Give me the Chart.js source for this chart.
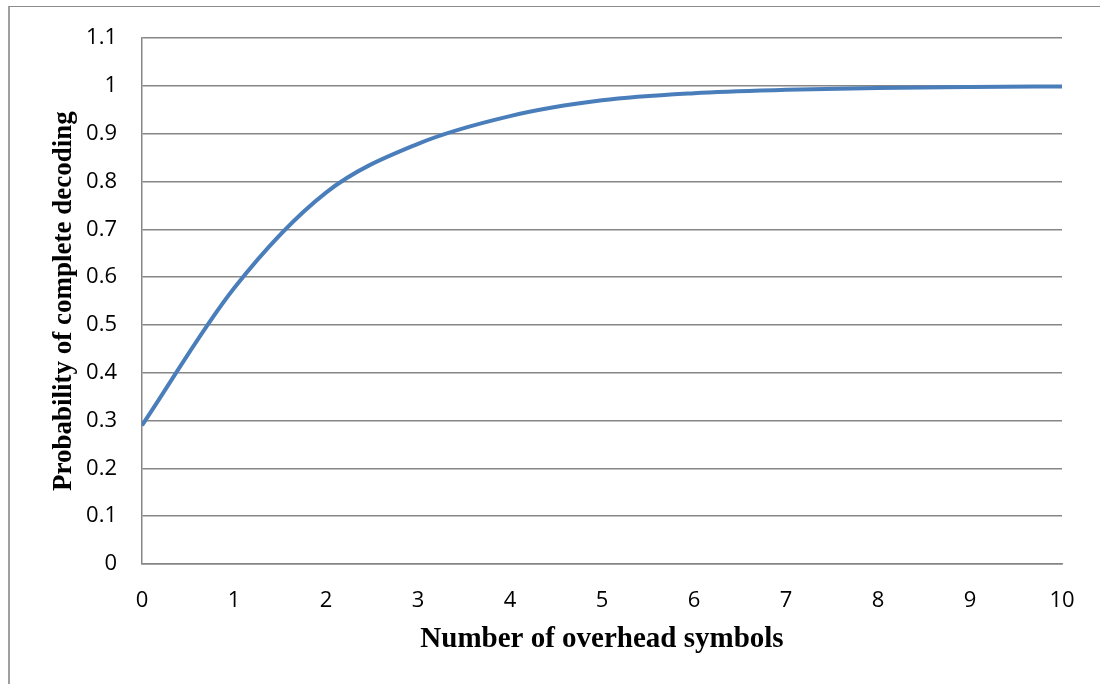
<!DOCTYPE html>
<html>
<head>
<meta charset="utf-8">
<script src="https://cdn.jsdelivr.net/npm/chart.js@4"></script>
<style>
    html, body { margin: 0; padding: 0; background: #fff; }
    #frame {
        position: absolute;
        left: 8px;
        top: 6px;
        width: 1100px;
        height: 690px;
        border-left: 2px solid #a0a0a0;
        border-top: 1px solid #8c8c8c;
    }
    #wrap { position: absolute; left: 0; top: 0; width: 1100px; height: 684px; }
</style>
</head>
<body>
<div id="frame"></div>
<div id="wrap"><canvas id="chart"></canvas></div>
<script>
// Overhead symbols vs. probability of decoding
const overhead = [0, 1, 2, 3, 4, 5, 6, 7, 8, 9, 10];
const probability = [0.290, 0.577, 0.777, 0.879, 0.937, 0.970, 0.985, 0.992, 0.996, 0.998, 0.999];
const yTicks = [0, 0.1, 0.2, 0.3, 0.4, 0.5, 0.6, 0.7, 0.8, 0.9, 1, 1.1];

const gridColor = '#868686';
const tickFont = { family: 'Open Sans', size: 22 };

document.addEventListener('DOMContentLoaded', function() {
    const ctx = document.getElementById('chart').getContext('2d');
    new Chart(ctx, {
        type: 'line',
        data: {
            datasets: [{
                label: 'Probability',
                data: overhead.map((x, i) => ({ x: x, y: probability[i] })),
                borderColor: '#4a7ebb',
                borderWidth: 4,
                pointRadius: 0,
                cubicInterpolationMode: 'monotone',
                fill: false
            }]
        },
        options: {
            responsive: true,
            maintainAspectRatio: false,
            animation: false,
            layout: { padding: { left: 0, right: 38, top: 35, bottom: 0 } },
            plugins: {
                legend: { display: false },
                tooltip: { enabled: false }
            },
            scales: {
                x: {
                    type: 'linear',
                    min: 0,
                    max: 10,
                    afterFit: function(scale) { scale.height = 120; },
                    grid: { display: false, drawTicks: false },
                    border: { display: true, color: gridColor, width: 1.5 },
                    ticks: {
                        stepSize: 1,
                        padding: 24,
                        color: '#000',
                        font: tickFont
                    },
                    title: {
                        display: true,
                        text: 'Number of overhead symbols',
                        color: '#000',
                        font: { family: 'Liberation Serif', size: 29, weight: 'bold' },
                        padding: { top: 0, bottom: 27 }
                    }
                },
                y: {
                    min: 0,
                    max: 1.1,
                    afterFit: function(scale) { scale.width = 142; },
                    afterBuildTicks: function(scale) {
                        scale.ticks = yTicks.map(v => ({ value: v }));
                    },
                    grid: { color: gridColor, lineWidth: 1.5, drawTicks: false },
                    border: { display: true, color: gridColor, width: 1.5 },
                    ticks: {
                        padding: 25,
                        color: '#000',
                        font: tickFont,
                        callback: function(value) { return String(Math.round(value * 10) / 10); }
                    },
                    title: {
                        display: true,
                        text: 'Probability of complete decoding',
                        color: '#000',
                        font: { family: 'Liberation Serif', size: 27, weight: 'bold' },
                        padding: { top: 48, bottom: 0 }
                    }
                }
            }
        }
    });
});
</script>
</body>
</html>
